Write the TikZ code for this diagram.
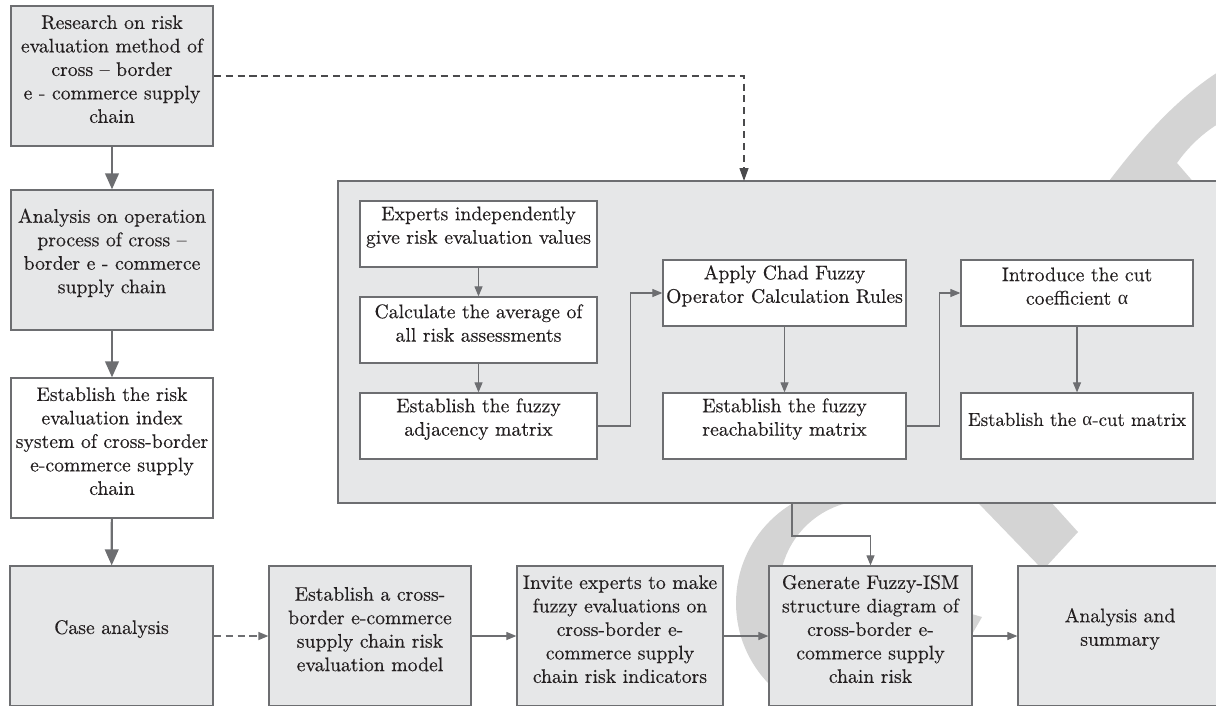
\documentclass[tikz,border=0pt]{standalone}
\usepackage{fontspec}
\setmainfont{lmroman10-regular.otf}[FakeBold=0.3]
\newfontfamily\grk{Liberation Serif}
\usetikzlibrary{fit,arrows.meta}
\definecolor{bordc}{HTML}{6D6E71}
\definecolor{fillc}{HTML}{E6E7E8}
\definecolor{arrc}{HTML}{6D6E71}
\definecolor{dashc}{HTML}{4A4A4C}
\definecolor{txtc}{HTML}{231F20}
\definecolor{wmc}{HTML}{D4D4D4}
\tikzset{
  gbox/.style={draw=bordc, fill=fillc, line width=0.9pt, inner sep=0pt, align=center, text=txtc,
    font={\fontsize{14pt}{16.7pt}\selectfont}},
  wbox/.style={gbox, fill=white},
  bigarr/.style={draw=arrc, line width=1.5pt, -{Triangle[length=0.4cm,width=0.34cm]}},
  arr/.style={draw=arrc, line width=0.8pt, -{Triangle[length=0.25cm,width=0.2cm]}},
  darr/.style={draw=arrc, line width=0.9pt, dash pattern=on 5pt off 3.5pt, -{Triangle[length=0.25cm,width=0.2cm]}},
  topdarr/.style={draw=dashc, line width=1pt, dash pattern=on 5pt off 3.5pt, -{Triangle[length=0.32cm,width=0.22cm]}},
  wm/.style={fill=wmc}
}
\begin{document}
\begin{tikzpicture}[x=0.025cm,y=-0.025cm]
\useasboundingbox (0,0) rectangle (1216,705);
\clip (0,0) rectangle (1216,705);
% watermark
\fill[wm] (1106,185) .. controls (1140,140) and (1175,100) .. (1218,72) -- (1218,124) .. controls (1200,135) and (1186,150) .. (1177,163) -- (1196,185) -- cycle;
\begin{scope}
  \clip (852,603) -- (862,400) -- (600,400) -- (600,800) -- (1010,800) -- (1010,631) -- cycle;
  \fill[wm, even odd rule] (852,603) circle (116) (868,589) circle (88.5);
\end{scope}
\fill[wm] (965,612) -- (982,617) -- (971,636) -- cycle;
\fill[wm] (956,480) -- (1031,480) -- (1078,532) -- (1043,570) -- cycle;

% container
\node[gbox, fit={(338,181) (1230,503)}] (cont) {};
% left column
\node[gbox, fit={(11,6) (213,146)}] (b1) {Research on risk\\evaluation method of\\cross -- border\\e - commerce supply\\chain};
\node[gbox, fit={(11,190) (213,330)}] (b2) {Analysis on operation\\process of cross --\\border e - commerce\\supply chain};
\node[wbox, fit={(11,378) (213,518)}] (b3) {Establish the risk\\evaluation index\\system of cross-border\\e-commerce supply\\chain};
% bottom row
\node[gbox, fit={(10,566) (213,706)}] (case) {Case analysis};
\node[gbox, fit={(269,566) (471,706)}] (b5) {Establish a cross-\\border e-commerce\\supply chain risk\\evaluation model};
\node[gbox, fit={(517,566) (723,706)}] (b6) {Invite experts to make\\fuzzy evaluations on\\cross-border e-\\commerce supply\\chain risk indicators};
\node[gbox, fit={(769,566) (972,706)}] (gen) {Generate Fuzzy-ISM\\structure diagram of\\cross-border e-\\commerce supply\\chain risk};
\node[gbox, fit={(1018,566) (1222,706)}] (ana) {Analysis and\\summary};
% inner boxes
\node[wbox, fit={(360,201) (597,267)}] (A) {Experts independently\\give risk evaluation values};
\node[wbox, fit={(360,297) (597,363)}] (B) {Calculate the average of\\all risk assessments};
\node[wbox, fit={(360,393) (597,459)}] (C) {Establish the fuzzy\\adjacency matrix};
\node[wbox, fit={(663,260) (906,326)}] (D) {Apply Chad Fuzzy\\Operator Calculation Rules};
\node[wbox, fit={(663,393) (906,459)}] (E) {Establish the fuzzy\\reachability matrix};
\node[wbox, fit={(961,260) (1193,326)}] (F) {Introduce the cut\\coefficient {\grk α}};
\node[wbox, fit={(961,393) (1193,459)}, font={\fontsize{13.4pt}{16.7pt}\selectfont}] (G) {Establish the {\grk α}-cut matrix};

% connectors
\draw[bigarr] (b1) -- (b2);
\draw[bigarr] (b2) -- (b3);
\draw[bigarr] (b3) -- (case);
\coordinate (dt) at (744,181);
\draw[topdarr] (b1.east) -| (dt);
\draw[arr] (A) -- (B);
\draw[arr] (B) -- (C);
\draw[arr] (C.east) -- ++(33,0) |- (D.west);
\draw[arr] (D) -- (E);
\draw[arr] (E.east) -- ++(33,0) |- (F.west);
\draw[arr] (F) -- (G);
\coordinate (cout) at (792,503.5);
\coordinate (cbend) at (792,536);
\draw[arr] (cout) -- (cbend) -| (gen);
\draw[darr] (case) -- (b5);
\draw[arr] (b5) -- (b6);
\draw[arr] (b6) -- (gen);
\draw[arr] (gen) -- (ana);
\end{tikzpicture}
\end{document}
